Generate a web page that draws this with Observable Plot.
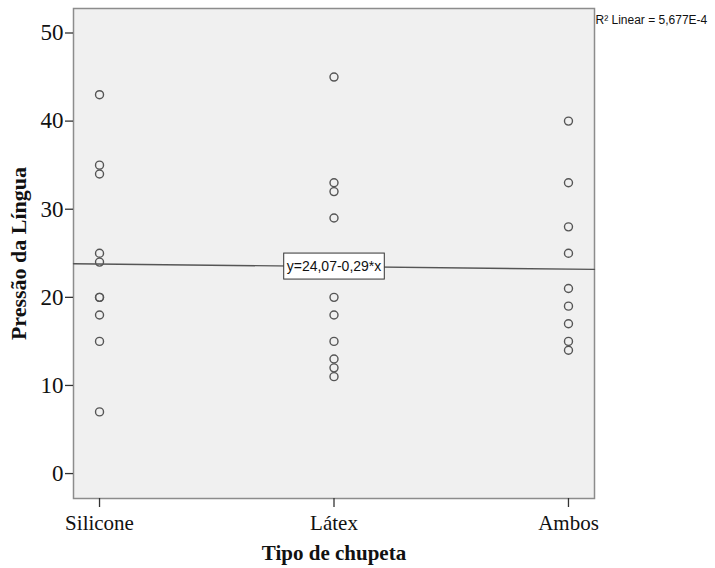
<!DOCTYPE html>
<html>
<head>
<meta charset="utf-8">
<script src="https://cdn.jsdelivr.net/npm/d3@7"></script>
<script src="https://cdn.jsdelivr.net/npm/@observablehq/plot@0.6"></script>
<style>
  html, body { margin: 0; padding: 0; background: #fff; }
  svg { display: block; }
</style>
</head>
<body>
<script>
// ---- data ----
const categories = ["Silicone", "Látex", "Ambos"];
const silicone = [43, 35, 34, 25, 24, 20, 20, 18, 15, 7];
const latex = [45, 33, 32, 29, 20, 18, 15, 13, 12, 11];
const ambos = [40, 33, 28, 25, 21, 19, 17, 15, 14];
const yTicks = [0, 10, 20, 30, 40, 50];
const xTicks = [1, 2, 3];
const intercept = 24.07;
const slope = -0.29;
const eqLabel = "y=24,07-0,29*x";
const r2Label = "R² Linear = 5,677E-4";
const xTitle = "Tipo de chupeta";
const yTitle = "Pressão da Língua";

const xDomain = [0.889, 3.111];
const yDomain = [-2.83, 52.78];

const points = [silicone, latex, ambos].flatMap((arr, i) => arr.map(v => ({x: xTicks[i], y: v})));
const fitLine = xDomain.map(x => ({x, y: intercept + slope * x}));
const eqDatum = [{x: xTicks[1], y: intercept + slope * xTicks[1], label: eqLabel}];

const sans = "'Liberation Sans', Arial, sans-serif";

const svg = Plot.plot({
  width: 715,
  height: 568,
  marginLeft: 73,
  marginRight: 121,
  marginTop: 8,
  marginBottom: 70,
  style: {fontFamily: "'Liberation Serif', 'Times New Roman', serif", fontSize: "21px", background: "#fff", overflow: "visible"},
  x: {domain: xDomain},
  y: {domain: yDomain},
  marks: [
    Plot.frame({fill: "#f0f0f0", stroke: "#8c8c8c", strokeWidth: 1.5}),
    Plot.axisY({ticks: yTicks, tickSize: 8, tickPadding: 2, line: true, label: null, stroke: "#333", strokeWidth: 1.3, fill: "#111", fontSize: 23}),
    Plot.axisX({ticks: xTicks, tickFormat: d => categories[d - 1], tickSize: 9, tickPadding: 8, line: true, label: null, stroke: "#333", strokeWidth: 1.3, fill: "#111", fontSize: 21}),
    Plot.line(fitLine, {x: "x", y: "y", stroke: "#555", strokeWidth: 1.3}),
    Plot.dot(points, {x: "x", y: "y", r: 4, stroke: "#555", strokeWidth: 1.4, fill: "none"}),
    Plot.text(eqDatum, {x: "x", y: "y", text: "label", fontFamily: sans, fontSize: 14, fill: "#111"}),
    Plot.text([r2Label], {frameAnchor: "top-right", textAnchor: "start", dx: 1, dy: 7, fontFamily: sans, fontSize: 12, fill: "#111"}),
    Plot.text([xTitle], {frameAnchor: "bottom", textAnchor: "middle", lineAnchor: "middle", dy: 55, fontWeight: "bold", fontSize: 21, fill: "#111"}),
    Plot.text([yTitle], {frameAnchor: "left", textAnchor: "middle", lineAnchor: "middle", rotate: -90, dx: -55, fontWeight: "bold", fontSize: 22, fill: "#111"})
  ]
});
document.body.appendChild(svg);

// white bordered box behind the equation label
const eqNode = d3.select(svg).selectAll("text").filter(function() { return this.textContent === eqLabel; }).node();
if (eqNode) {
  const bb = eqNode.getBBox();
  const padX = 3, padY = 5;
  const rect = document.createElementNS("http://www.w3.org/2000/svg", "rect");
  rect.setAttribute("x", bb.x - padX);
  rect.setAttribute("y", bb.y - padY);
  rect.setAttribute("width", bb.width + 2 * padX);
  rect.setAttribute("height", bb.height + 2 * padY);
  rect.setAttribute("fill", "#fff");
  rect.setAttribute("stroke", "#333");
  rect.setAttribute("stroke-width", "1");
  const tr = eqNode.getAttribute("transform");
  if (tr) rect.setAttribute("transform", tr);
  eqNode.parentNode.insertBefore(rect, eqNode);
}
</script>
</body>
</html>
